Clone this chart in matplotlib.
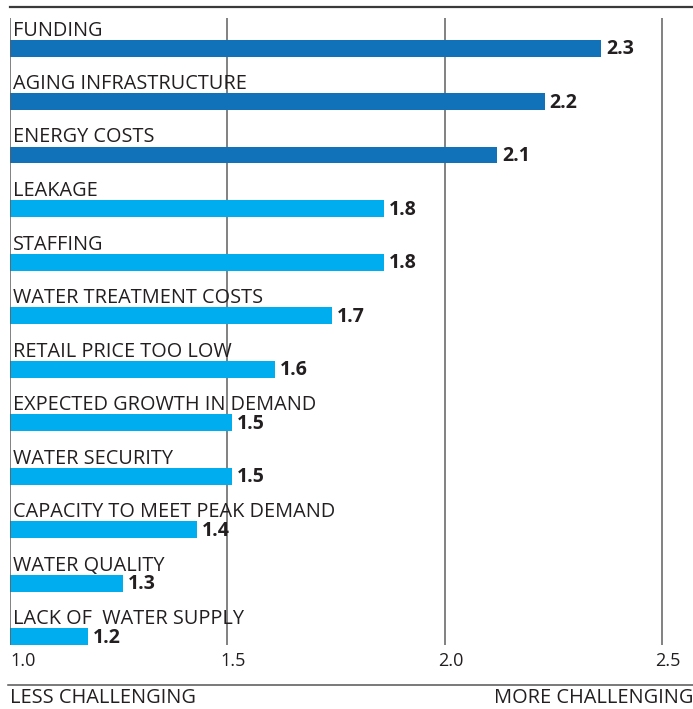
import matplotlib
matplotlib.use("Agg")
import matplotlib.pyplot as plt

categories = ["FUNDING", "AGING INFRASTRUCTURE", "ENERGY COSTS", "LEAKAGE", "STAFFING",
              "WATER TREATMENT COSTS", "RETAIL PRICE TOO LOW", "EXPECTED GROWTH IN DEMAND",
              "WATER SECURITY", "CAPACITY TO MEET PEAK DEMAND", "WATER QUALITY",
              "LACK OF  WATER SUPPLY"]
values = [2.36, 2.23, 2.12, 1.86, 1.86, 1.74, 1.61, 1.51, 1.51, 1.43, 1.26, 1.18]
labels = ["2.3", "2.2", "2.1", "1.8", "1.8", "1.7", "1.6", "1.5", "1.5", "1.4", "1.3", "1.2"]
top_n = 3
ticks = [1.0, 1.5, 2.0, 2.5]
tick_labels = ["1.0", "1.5", "2.0", "2.5"]

DARK = "#1172BA"
LIGHT = "#00AEEF"
TXT = "#231F20"
plt.rcParams['font.family'] = ['Open Sans', 'DejaVu Sans']

W, H = 693, 709
fig = plt.figure(figsize=(W/100, H/100), dpi=100)
ax_left, ax_right, ax_top, ax_bot = 10, 693, 7, 645
ax = fig.add_axes([ax_left/W, 1 - ax_bot/H, (ax_right-ax_left)/W, (ax_bot-ax_top)/H])
ppu = 434.7
ax.set_xlim(1.0, 1.0 + (ax_right-ax_left)/ppu)
y0, dy = 48, 53.5
ax.set_ylim((ax_bot-y0)/dy, (ax_top-y0)/dy)
for s in ax.spines.values():
    s.set_visible(False)
ax.set_xticks([]); ax.set_yticks([])

ytop = (18-y0)/dy
for t in ticks:
    ax.plot([t, t], [ytop, (ax_bot-y0)/dy], color="#5f5f5f", lw=1.1, zorder=3 if t == 1.0 else 1,
            solid_capstyle='butt')
ax.axhline((ax_top-y0)/dy, color="#3a3a3a", lw=1.6, clip_on=False)

bh = 17/dy
for i, (c, v, l) in enumerate(zip(categories, values, labels)):
    col = DARK if i < top_n else LIGHT
    ax.barh(i, v-1.0, left=1.0, height=bh, color=col, zorder=2)
    ax.text(1.0 + 3/ppu, i - bh/2 - 4/dy, c, fontsize=14.3, color=TXT, va='baseline', ha='left', zorder=4)
    ax.text(v + 5/ppu, i + 0.02, l, fontsize=14, fontweight='bold', color=TXT, va='center', ha='left', zorder=4)

for t, tl in zip(ticks, tick_labels):
    if t == 1.0:
        fig.text(ax_left/W, 1 - 661/H, tl, fontsize=13, color=TXT, ha='left', va='center')
    else:
        xpix = ax_left + (t-1.0)*ppu + 6
        fig.text(xpix/W, 1 - 661/H, tl, fontsize=13, color=TXT, ha='center', va='center')

fig.add_artist(plt.Line2D([8/W, 1.0], [1-685/H, 1-685/H], color="#555555", lw=1.1))
fig.text(ax_left/W, 1 - 698/H, "LESS CHALLENGING", fontsize=14.4, color=TXT, ha='left', va='center')
fig.text(1.0, 1 - 698/H, "MORE CHALLENGING", fontsize=14.4, color=TXT, ha='right', va='center')

fig.savefig("out.png", dpi=100)
